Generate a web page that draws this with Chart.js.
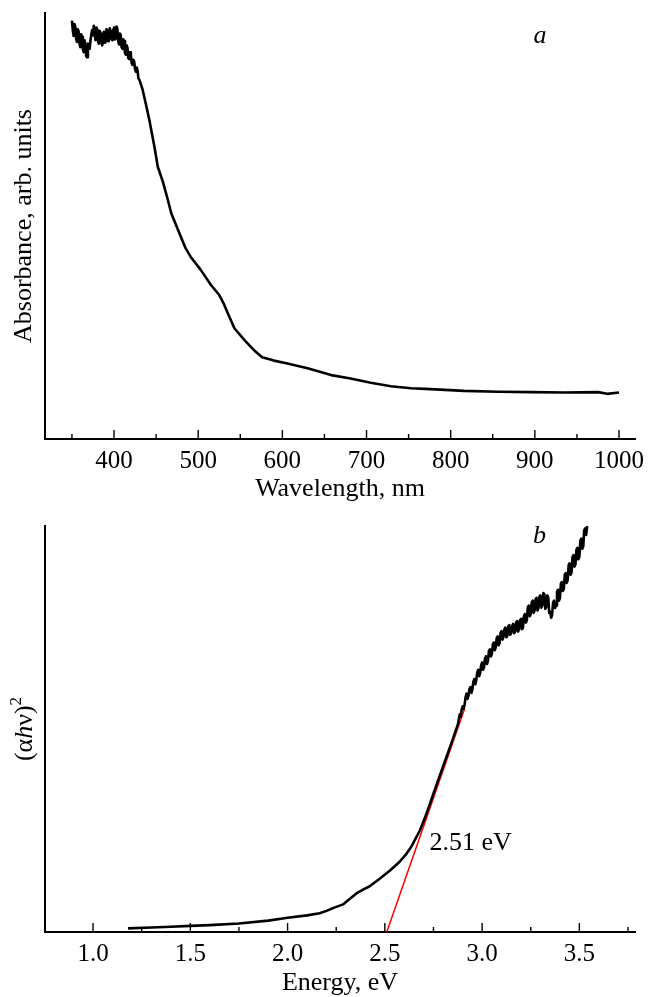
<!DOCTYPE html>
<html>
<head>
<meta charset="utf-8">
<script src="https://cdn.jsdelivr.net/npm/chart.js@4.4.0/dist/chart.umd.min.js"></script>
<style>
  html, body { margin: 0; padding: 0; background: #fff; }
  canvas { display: block; }
</style>
</head>
<body>
<canvas id="chartA" width="660" height="505"></canvas>
<canvas id="chartB" width="660" height="492"></canvas>
<script>
// ---------- Panel a: absorbance spectrum ----------
const wavelength = [
  350,351,352,353,354,355,356,357,358,359,360,361,362,363,364,365,366,367,368,369,
  370,371,372,373,374,375,376,377,378,379,380,381,382,383,384,385,386,387,388,389,
  390,391,392,393,394,395,396,397,398,399,400,401,402,403,404,405,406,407,408,409,
  410,411,412,413,414,415,416,417,418,419,420,421,422,423,424,425,426,427,428,429,430,
  434,438,442,448,452,458,464,468,476,485,491,503,515,525,530,537,543,555,566,576,
  590,606,630,658,681,705,729,753,776,816,856,895,935,975,986,1000
];
const absorbance = [
  98.2,96.0,94.6,97.4,96.8,94.0,93.2,96.2,95.6,92.8,92.0,95.0,94.4,91.4,90.8,93.6,92.6,89.8,89.6,92.8,
  92.2,91.6,93.4,95.0,96.0,94.8,97.0,95.2,93.6,96.6,96.2,93.4,92.8,95.8,95.4,93.0,92.4,95.2,95.6,93.0,
  93.2,96.2,96.0,93.4,93.8,96.4,95.8,94.0,93.6,95.8,96.6,93.8,94.0,96.8,96.2,93.4,92.6,95.2,94.8,92.0,
  91.6,93.8,93.4,90.6,90.2,92.4,91.8,89.4,89.2,90.8,90.4,88.2,87.8,89.0,88.6,86.8,86.2,87.2,86.4,84.6,84.4,
  82.0,78.5,74.9,68.6,63.9,60.4,56.1,53.0,49.1,44.8,42.8,39.7,36.2,33.8,31.9,28.7,26.0,23.2,20.9,19.2,
  18.4,17.7,16.6,15.0,14.2,13.2,12.4,11.9,11.7,11.3,11.1,11.0,10.9,11.0,10.6,10.9
];
const waveMajorTicks = [400, 500, 600, 700, 800, 900, 1000];
const waveMinorTicks = [350, 450, 550, 650, 750, 850, 950];
const waveAxisTitle = 'Wavelength, nm';
const absAxisTitle = 'Absorbance, arb. units';
const labelA = 'a';

// ---------- Panel b: Tauc plot ----------
const energy = [
  1.18,1.30,1.40,1.50,1.60,1.75,1.90,2.00,2.10,2.165,2.20,2.24,2.285,2.32,2.354,2.39,2.42,2.47,2.525,2.576,
  2.61,2.636,2.66,2.68,2.705,2.73,2.755,2.781,2.807,2.833,2.855,2.876,
  2.88,2.885,2.89,2.895,2.90,2.905,2.91,2.915,2.92,2.925,2.93,2.935,2.94,2.945,2.95,2.955,2.96,2.965,2.97,2.975,
  2.98,2.985,2.99,2.995,3.00,3.005,3.01,3.015,3.02,3.025,3.03,3.035,3.04,3.045,3.05,3.055,3.06,3.065,3.07,3.075,
  3.08,3.085,3.09,3.095,3.10,3.105,3.11,3.115,3.12,3.125,3.13,3.135,3.14,3.145,3.15,3.155,3.16,3.165,3.17,3.175,
  3.18,3.185,3.19,3.195,3.20,3.205,3.21,3.215,3.22,3.225,3.23,3.235,3.24,3.245,3.25,3.255,3.26,3.265,3.27,3.275,
  3.28,3.285,3.29,3.295,3.30,3.305,3.31,3.315,3.32,3.325,3.33,3.335,3.34,3.345,3.35,3.355,3.36,3.365,3.37,3.375,
  3.38,3.385,3.39,3.395,3.40,3.405,3.41,3.415,3.42,3.425,3.43,3.435,3.44,3.445,3.45,3.455,3.46,3.465,3.47,3.475,
  3.48,3.485,3.49,3.495,3.50,3.505,3.51,3.515,3.52,3.525,3.53,3.535,3.54
];
const alphaHvSquared = [
  0.9,1.1,1.3,1.5,1.7,2.1,2.8,3.5,4.1,4.6,5.2,6.0,6.8,8.2,9.5,10.5,11.2,13.0,15.1,17.3,
  19.2,21.0,23.2,25.0,28.0,31.3,34.8,38.3,41.8,45.3,48.3,51.2,
  52.3,53.6,53.0,54.8,55.6,55.0,56.0,57.8,58.7,57.4,58.2,59.9,60.3,58.9,59.8,61.6,62.3,61.0,62.1,63.9,
  64.6,63.0,63.8,65.7,66.4,64.6,65.2,67.5,67.9,66.0,66.8,69.2,69.6,67.9,68.4,70.8,71.3,69.4,70.1,72.4,
  72.8,70.6,71.2,73.6,74.1,72.0,72.7,74.6,75.0,72.6,73.0,75.3,75.6,73.2,73.7,75.4,75.9,73.6,74.0,76.2,
  76.6,74.0,74.5,76.8,77.1,74.6,75.0,77.8,78.3,76.2,76.8,80.0,80.4,77.8,78.3,81.2,81.6,78.6,79.2,82.0,
  82.3,79.2,79.8,82.6,82.9,79.9,80.5,83.5,83.2,79.6,80.1,82.9,82.4,78.6,78.9,77.4,78.2,81.2,81.6,79.8,
  80.4,83.8,84.3,81.6,82.2,85.8,86.2,84.0,84.5,88.0,88.4,86.0,86.7,90.4,90.8,88.0,88.6,92.4,92.8,90.0,
  90.6,94.2,94.6,91.8,92.4,96.4,96.9,94.4,95.0,99.0,99.4,97.8,100.0
];
const tangentEnergy = [2.51, 2.91];
const tangentValue = [0, 55];
const energyMajorTicks = [1.0, 1.5, 2.0, 2.5, 3.0, 3.5];
const energyMinorTicks = [1.25, 1.75, 2.25, 2.75, 3.25, 3.75];
const energyAxisTitle = 'Energy, eV';
const labelB = 'b';
const gapLabel = '2.51 eV';

// ---------- helpers ----------
const FONT = "'Liberation Serif', 'Times New Roman', serif";
const toXY = (xs, ys) => xs.map((x, i) => ({ x: x, y: ys[i] }));

const inwardTicks = {
  id: 'inwardTicks',
  afterDraw(chart, args, opts) {
    const { ctx, chartArea } = chart;
    const xs = chart.scales.x;
    ctx.save();
    ctx.strokeStyle = '#000';
    ctx.lineWidth = 1.4;
    const draw = (vals, len) => vals.forEach(v => {
      const px = xs.getPixelForValue(v);
      ctx.beginPath();
      ctx.moveTo(px, chartArea.bottom);
      ctx.lineTo(px, chartArea.bottom - len);
      ctx.stroke();
    });
    draw(opts.major || [], 9);
    draw(opts.minor || [], 5);
    ctx.restore();
  }
};

const textLabels = {
  id: 'textLabels',
  afterDraw(chart, args, opts) {
    const { ctx } = chart;
    const xs = chart.scales.x, ys = chart.scales.y;
    ctx.save();
    ctx.fillStyle = '#000';
    (opts.items || []).forEach(it => {
      ctx.font = it.font;
      ctx.textAlign = it.align || 'left';
      ctx.textBaseline = 'alphabetic';
      ctx.fillText(it.text, xs.getPixelForValue(it.x), ys.getPixelForValue(it.y));
    });
    ctx.restore();
  }
};

const taucTitle = {
  id: 'taucTitle',
  afterDraw(chart, args, opts) {
    if (!opts.enabled) return;
    const { ctx, chartArea } = chart;
    const parts = [
      { t: '(\u03B1', f: '26px ' + FONT, dy: 0 },
      { t: 'h', f: 'italic 26px ' + FONT, dy: 0 },
      { t: '\u03BD)', f: '26px ' + FONT, dy: 0 },
      { t: '2', f: '17px ' + FONT, dy: -11 }
    ];
    ctx.save();
    let total = 0;
    parts.forEach(p => { ctx.font = p.f; p.w = ctx.measureText(p.t).width; total += p.w; });
    const cy = (chartArea.top + chartArea.bottom) / 2;
    ctx.translate(opts.x, cy);
    ctx.rotate(-Math.PI / 2);
    ctx.fillStyle = '#000';
    ctx.textBaseline = 'alphabetic';
    ctx.textAlign = 'left';
    let x = -total / 2;
    parts.forEach(p => { ctx.font = p.f; ctx.fillText(p.t, x, p.dy); x += p.w; });
    ctx.restore();
  }
};

function xScale(min, max, major, title, axisHeight, titlePad, fmt) {
  return {
    type: 'linear', min: min, max: max,
    afterBuildTicks: s => { s.ticks = major.map(v => ({ value: v })); },
    afterFit: s => { s.height = axisHeight; },
    grid: { display: false, drawTicks: false },
    border: { display: true, color: '#000', width: 2 },
    ticks: {
      color: '#000', padding: 10, maxRotation: 0, minRotation: 0, autoSkip: false,
      font: { family: FONT, size: 25, lineHeight: 1 },
      callback: fmt
    },
    title: {
      display: true, text: title, color: '#000',
      font: { family: FONT, size: 26, lineHeight: 1 },
      padding: { top: 0, bottom: titlePad }
    }
  };
}

function yScale(title) {
  return {
    type: 'linear', min: 0, max: 100,
    afterFit: s => { s.width = 45; },
    grid: { display: false, drawTicks: false },
    border: { display: true, color: '#000', width: 2 },
    ticks: { display: false },
    title: {
      display: !!title, text: title || '', color: '#000',
      font: { family: FONT, size: 26, lineHeight: 1 },
      padding: { top: 11, bottom: 0 }
    }
  };
}

// ---------- Chart a ----------
new Chart(document.getElementById('chartA'), {
  type: 'line',
  data: {
    datasets: [{
      data: toXY(wavelength, absorbance),
      borderColor: '#000', borderWidth: 2.6, pointRadius: 0, tension: 0,
      borderJoinStyle: 'round', clip: false
    }]
  },
  options: {
    responsive: false, animation: false, devicePixelRatio: 1,
    layout: { padding: { top: 13, right: 25, bottom: 0, left: 0 } },
    plugins: {
      legend: { display: false }, tooltip: { enabled: false },
      inwardTicks: { major: waveMajorTicks, minor: waveMinorTicks },
      textLabels: { items: [{ text: labelA, x: 906, y: 93, font: 'italic 26px ' + FONT, align: 'center' }] },
      taucTitle: { enabled: false }
    },
    scales: {
      x: xScale(318, 1019, waveMajorTicks, waveAxisTitle, 66, 3, v => String(v)),
      y: yScale(absAxisTitle)
    }
  },
  plugins: [inwardTicks, textLabels, taucTitle]
});

// ---------- Chart b ----------
new Chart(document.getElementById('chartB'), {
  type: 'line',
  data: {
    datasets: [{
      data: toXY(energy, alphaHvSquared),
      borderColor: '#000', borderWidth: 2.6, pointRadius: 0, tension: 0,
      borderJoinStyle: 'round', clip: false
    }, {
      data: toXY(tangentEnergy, tangentValue),
      borderColor: '#ff0000', borderWidth: 1.5, pointRadius: 0, tension: 0, clip: false
    }]
  },
  options: {
    responsive: false, animation: false, devicePixelRatio: 1,
    layout: { padding: { top: 21, right: 25, bottom: 0, left: 0 } },
    plugins: {
      legend: { display: false }, tooltip: { enabled: false },
      inwardTicks: { major: energyMajorTicks, minor: energyMinorTicks },
      textLabels: { items: [
        { text: labelB, x: 3.295, y: 95.8, font: 'italic 26px ' + FONT, align: 'center' },
        { text: gapLabel, x: 2.73, y: 20.2, font: '26px ' + FONT, align: 'left' }
      ] },
      taucTitle: { enabled: true, x: 32 }
    },
    scales: {
      x: xScale(0.753, 3.786, energyMajorTicks, energyAxisTitle, 65, 1, v => Number(v).toFixed(1)),
      y: yScale(null)
    }
  },
  plugins: [inwardTicks, textLabels, taucTitle]
});
</script>
</body>
</html>
